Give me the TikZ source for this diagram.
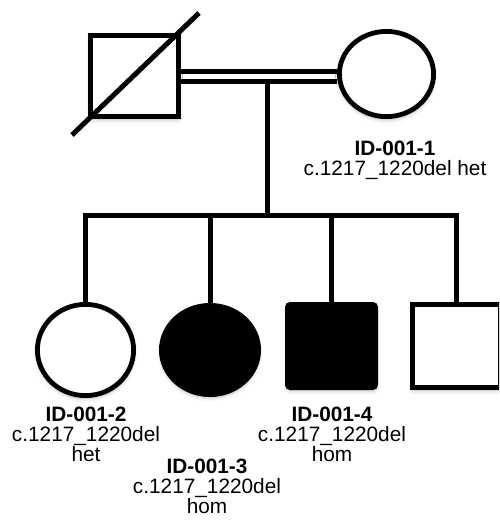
\documentclass[tikz,border=0pt]{standalone}
\usepackage{fontspec}
\setmainfont{Liberation Sans}
\usetikzlibrary{shapes.geometric,backgrounds,shadows.blur}
\begin{document}
\begin{tikzpicture}[x=1pt,y=-1pt,
  line width=5pt,
  soft/.style={blur shadow={shadow xshift=0pt,shadow yshift=-3pt,
      shadow blur radius=4pt,shadow opacity=30}},
  male/.style={rectangle,draw=black,line width=4.8pt,inner sep=0pt,
      fill=white,soft},
  female/.style={ellipse,draw=black,line width=4.8pt,inner sep=0pt,
      fill=white,soft},
  affected/.style={fill=black},
  % multi-line labels: the base anchor sits on the last line
  tag/.style={anchor=base,align=center,inner sep=0pt,
      font=\fontsize{20.8}{20}\selectfont},
  link/.style={line width=5pt,line join=miter}]
\useasboundingbox (0,0) rectangle (499,520);
\clip (0,0) rectangle (499,520);

% parents
\node[male,minimum width=88.2pt,minimum height=81.2pt] (father) at (134.5,76) {};
\node[female,minimum width=94.2pt,minimum height=85.2pt] (mother) at (386.5,74) {};

% children
\node[female,minimum width=96.2pt,minimum height=91.2pt] (c1) at (85.5,350) {};
\node[female,affected,minimum width=97.2pt,minimum height=89.2pt] (c2) at (210,350) {};
\node[male,affected,rounded corners=3pt,minimum width=88.2pt,minimum height=83.2pt] (c3) at (331.5,346) {};
\node[male,minimum width=88.2pt,minimum height=83.2pt] (c4) at (456.5,346) {};

% deceased mark
\draw[line width=5pt] (72,135) -- (199,13);

% connecting lines
\coordinate (union) at (267,81.5);
\coordinate (sib) at (267,215.5);
\begin{scope}[on background layer]
  \draw[link,double=white,double distance=5pt] (father.east) -- (father.east -| mother.west);
  \draw[link] (union) -- (sib);
  \draw[link] (c1.north) |- (c4.north |- sib) -- (c4.north);
  \draw[link] (c2.north) -- (c2.north |- sib);
  \draw[link] (c3.north) -- (c3.north |- sib);
\end{scope}

% labels
\node[tag] (t1) at (395,175) {\textbf{ID-001-1}\\c.1217\_1220del het};
\node[tag] (t2) at (86,461.5) {\textbf{ID-001-2}\\c.1217\_1220del\\het};
\node[tag] (t3) at (207,513) {\textbf{ID-001-3}\\c.1217\_1220del\\hom};
\node[tag] (t4) at (332,461.5) {\textbf{ID-001-4}\\c.1217\_1220del\\hom};
\end{tikzpicture}
\end{document}
